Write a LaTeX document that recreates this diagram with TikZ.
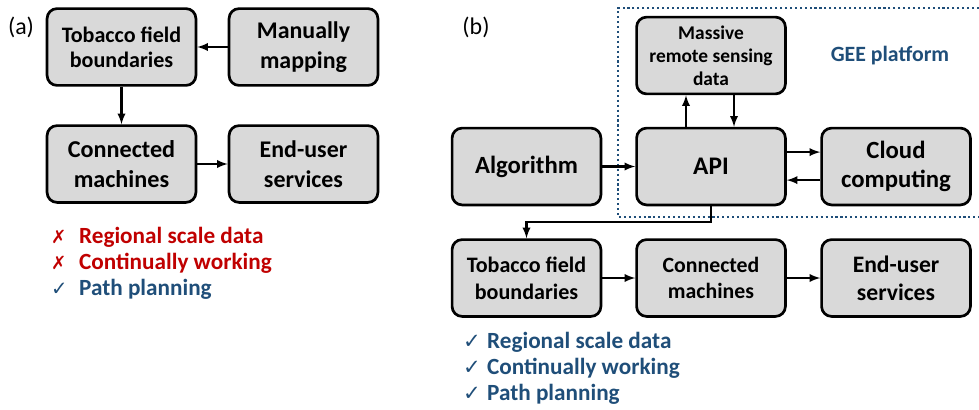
\documentclass[tikz,border=0pt]{standalone}
\usepackage{fontspec}
\setmainfont{Carlito}
\newfontfamily\symfont{DejaVu Sans}
\usetikzlibrary{arrows}

\definecolor{boxgray}{HTML}{D9D9D9}
\definecolor{darkred}{HTML}{C00000}
\definecolor{darkblue}{HTML}{1F4E79}

\tikzstyle{block} = [draw,line width=1.9pt,rounded corners=0.25cm,fill=boxgray,
  minimum width=3.72cm,minimum height=1.92cm,inner sep=0pt,align=center,font=\bfseries]
\tikzstyle{panel} = [font=\fontsize{17}{20}\selectfont]
\tikzstyle{item} = [anchor=west,inner sep=0pt,font=\bfseries\fontsize{16.5}{19}\selectfont]
\newcommand{\nomark}{\makebox[0.7cm][l]{\symfont\mdseries\fontsize{13}{14}\selectfont ✗}}
\newcommand{\yesmark}{\makebox[0.6cm][l]{\symfont\mdseries\fontsize{15}{15}\selectfont ✓}}

\begin{document}
\begin{tikzpicture}[x=0.025cm,y=-0.025cm,line width=1.6pt]
		\useasboundingbox (0,0) rectangle (979,409);

		% panel (a)
		\node[panel] (la) at (21,27) {(a)};
		\node[block,font=\bfseries\fontsize{15.7}{18}\selectfont] (a1) at (121.5,47) {Tobacco field\\boundaries};
		\node[block,font=\bfseries\fontsize{17}{21}\selectfont] (a2) at (303.5,47) {Manually\\mapping};
		\node[block,font=\bfseries\fontsize{17.2}{21}\selectfont] (a3) at (121.5,164) {Connected\\machines};
		\node[block,font=\bfseries\fontsize{17}{21}\selectfont] (a4) at (303.5,164) {End-user\\services};
		\draw[->,>=latex] (a2) -- (a1);
		\draw[->,>=latex] (a1) -- (a3);
		\draw[->,>=latex] (a3) -- (a4);

		\node[item,text=darkred] (x1) at (50,237) {\nomark Regional scale data};
		\node[item,text=darkred] (x2) at (50,263) {\nomark Continually working};
		\node[item,text=darkblue] (x3) at (50,289) {\makebox[0.7cm][l]{\symfont\mdseries\fontsize{14}{14}\selectfont ✓}Path planning};

		% panel (b)
		\node[panel] (lb) at (476,27) {(b)};
		\draw[darkblue,line width=1.5pt,dotted] (979,8) -- (618,8) -- (618,217) -- (979,217);
		\node[font=\bfseries\fontsize{15.5}{18}\selectfont,text=darkblue] (gee) at (890,56) {GEE platform};

		\node[block,font=\bfseries\fontsize{13.8}{16.5}\selectfont] (b1) at (711,55.5) {Massive\\remote sensing\\data};
		\node[block,font=\bfseries\fontsize{17.6}{21}\selectfont] (b2) at (526.5,166.5) {Algorithm};
		\node[block,font=\bfseries\fontsize{18}{21}\selectfont] (b3) at (711,166.5) {API};
		\node[block,font=\bfseries\fontsize{17.6}{20.5}\selectfont] (b4) at (896,166.5) {Cloud\\computing};
		\node[block,font=\bfseries\fontsize{15.7}{19}\selectfont] (b5) at (526.5,278) {Tobacco field\\boundaries};
		\node[block,font=\bfseries\fontsize{15.5}{18.5}\selectfont] (b6) at (711,278) {Connected\\machines};
		\node[block,font=\bfseries\fontsize{16.8}{20}\selectfont] (b7) at (896,278) {End-user\\services};

		\draw[->,>=latex] ([xshift=-0.625cm]b3.north) -- ([xshift=-0.625cm]b1.south);
		\draw[->,>=latex] ([xshift=0.575cm]b1.south) -- ([xshift=0.575cm]b3.north);
		\draw[->,>=latex] (b2) -- (b3);
		\draw[->,>=latex] ([yshift=0.36cm]b3.east) -- ([yshift=0.36cm]b4.west);
		\draw[->,>=latex] ([yshift=-0.34cm]b4.west) -- ([yshift=-0.34cm]b3.east);
		\draw[->,>=latex] (b3.south) -- ++(0,16) -| (b5.north);
		\draw[->,>=latex] (b5) -- (b6);
		\draw[->,>=latex] (b6) -- (b7);

		\node[item,text=darkblue] (c1) at (462,342) {\yesmark Regional scale data};
		\node[item,text=darkblue] (c2) at (462,368) {\yesmark Continually working};
		\node[item,text=darkblue] (c3) at (462,394) {\yesmark Path planning};
\end{tikzpicture}
\end{document}
